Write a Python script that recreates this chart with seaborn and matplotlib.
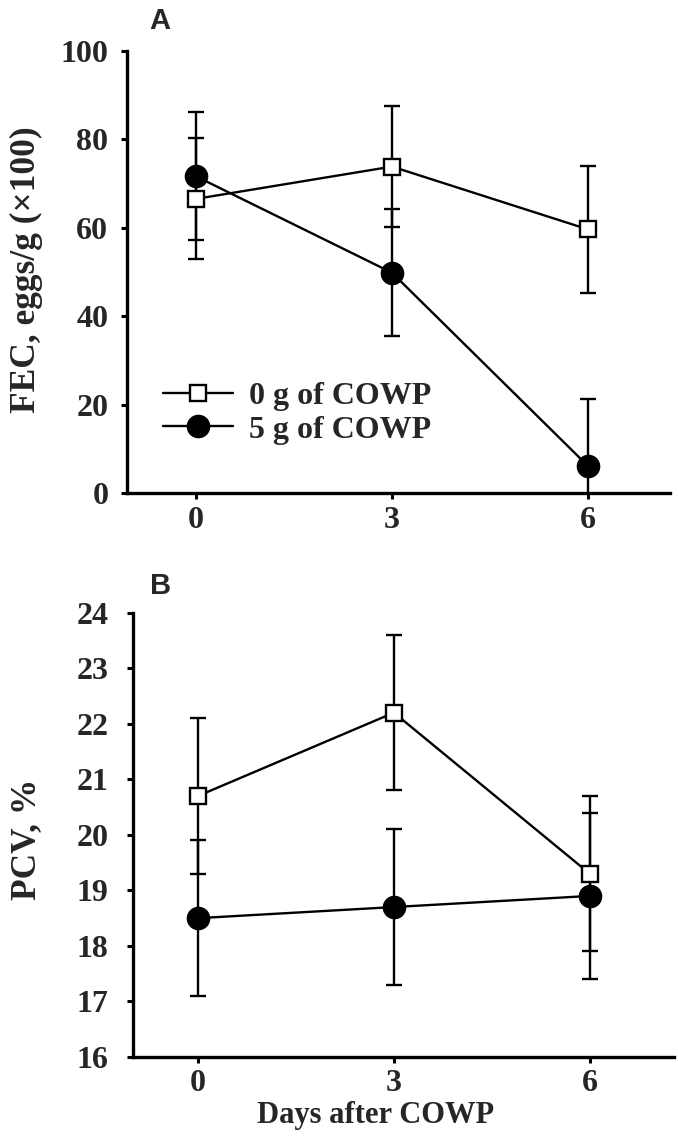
import numpy as np
import pandas as pd
import matplotlib
matplotlib.use("Agg")
import matplotlib.pyplot as plt
import seaborn as sns

# ---- data ----
days = [0, 3, 6]
groups = ["0 g of COWP", "5 g of COWP"]

fec_0g = [66.5, 73.8, 59.6]
fec_0g_err = [13.7, 13.6, 14.3]
fec_5g = [71.6, 49.8, 6.1]
fec_5g_err = [14.5, 14.4, 15.2]

pcv_0g = [20.7, 22.2, 19.3]
pcv_0g_err = [1.4, 1.4, 1.4]
pcv_5g = [18.5, 18.7, 18.9]
pcv_5g_err = [1.4, 1.4, 1.5]

fec_ticks = [0, 20, 40, 60, 80, 100]
pcv_ticks = [16, 17, 18, 19, 20, 21, 22, 23, 24]
day_ticks = [0, 3, 6]

sns.set_style("ticks")
plt.rcParams["font.family"] = ["Liberation Serif", "DejaVu Serif"]
plt.rcParams["font.weight"] = "bold"

W, H = 678, 1140
fig = plt.figure(figsize=(W / 100, H / 100), dpi=100)


def make_axes(l, r, t, b):
    return fig.add_axes([l / W, 1 - b / H, (r - l) / W, (b - t) / H])


axA = make_axes(127, 670, 50.7, 493)
axB = make_axes(132.7, 674, 612.7, 1057)

styles = {
    groups[0]: dict(marker="s", markersize=12, markerfacecolor="white",
                    markeredgecolor="black", markeredgewidth=1.7),
    groups[1]: dict(marker="o", markersize=16, markerfacecolor="black",
                    markeredgecolor="black", markeredgewidth=1.0),
}


def draw(ax, v0, e0, v1, e1):
    for g, vals, errs in [(groups[0], v0, e0), (groups[1], v1, e1)]:
        ax.errorbar(days, vals, yerr=errs, fmt="none", ecolor="black",
                    elinewidth=1.7, capsize=6, capthick=1.7, zorder=2,
                    label="_nolegend_")
    for g, vals in [(groups[0], v0), (groups[1], v1)]:
        df = pd.DataFrame({"day": days, "value": vals})
        sns.lineplot(data=df, x="day", y="value", ax=ax, color="black",
                     linewidth=1.7, label=g, errorbar=None, zorder=3,
                     **styles[g])


draw(axA, fec_0g, fec_0g_err, fec_5g, fec_5g_err)
draw(axB, pcv_0g, pcv_0g_err, pcv_5g, pcv_5g_err)

fs = 23
for ax in (axA, axB):
    sns.despine(ax=ax)
    for s in ("left", "bottom"):
        ax.spines[s].set_linewidth(2.4)
        ax.spines[s].set_color("black")
    ax.set_xticks(day_ticks)
    ax.set_xticklabels([str(d) for d in day_ticks])
    ax.tick_params(axis="both", direction="out", length=4.5, width=2.2,
                   color="black", labelsize=fs)
    ax.set_xlabel("")
    ax.set_ylabel("")

axA.set_xlim(-1.056, 7.255)
axA.set_ylim(0, 100)
axA.set_yticks(fec_ticks)
axA.set_yticklabels([str(t) for t in fec_ticks])
axA.tick_params(axis="y", pad=9)
axA.tick_params(axis="x", pad=5)

axB.set_xlim(-1.0, 7.29)
axB.set_ylim(16, 24)
axB.set_yticks(pcv_ticks)
axB.set_yticklabels([str(t) for t in pcv_ticks])
axB.tick_params(axis="y", pad=13)
axB.tick_params(axis="x", pad=4)
for lab in axA.get_xticklabels() + axA.get_yticklabels() + axB.get_xticklabels() + axB.get_yticklabels():
    lab.set_fontweight("bold")

axA.set_ylabel("FEC, eggs/g (\u00d7100)", fontsize=25.5, fontweight="bold")
axA.yaxis.set_label_coords(-0.155, 0.504)
axB.set_ylabel("PCV, %", fontsize=25.5, fontweight="bold")
axB.yaxis.set_label_coords(-0.166, 0.49)
axB.set_xlabel("Days after COWP", fontsize=22, fontweight="bold")
axB.xaxis.set_label_coords(0.448, -0.098)

axB.get_legend().remove()
leg = axA.legend(loc="center left", bbox_to_anchor=(0.066, 0.18),
                 frameon=False, borderpad=0, borderaxespad=0,
                 handlelength=2.2, handletextpad=0.5, labelspacing=0.12,
                 prop={"family": "Liberation Serif", "weight": "bold", "size": fs})

fig.text(160 / W, 1 - 21 / H, "A", ha="center", va="center",
         fontsize=21, fontweight="bold", family="Liberation Sans")
fig.text(161 / W, 1 - 586 / H, "B", ha="center", va="center",
         fontsize=21, fontweight="bold", family="Liberation Sans")

fig.savefig("out.png", dpi=100)
